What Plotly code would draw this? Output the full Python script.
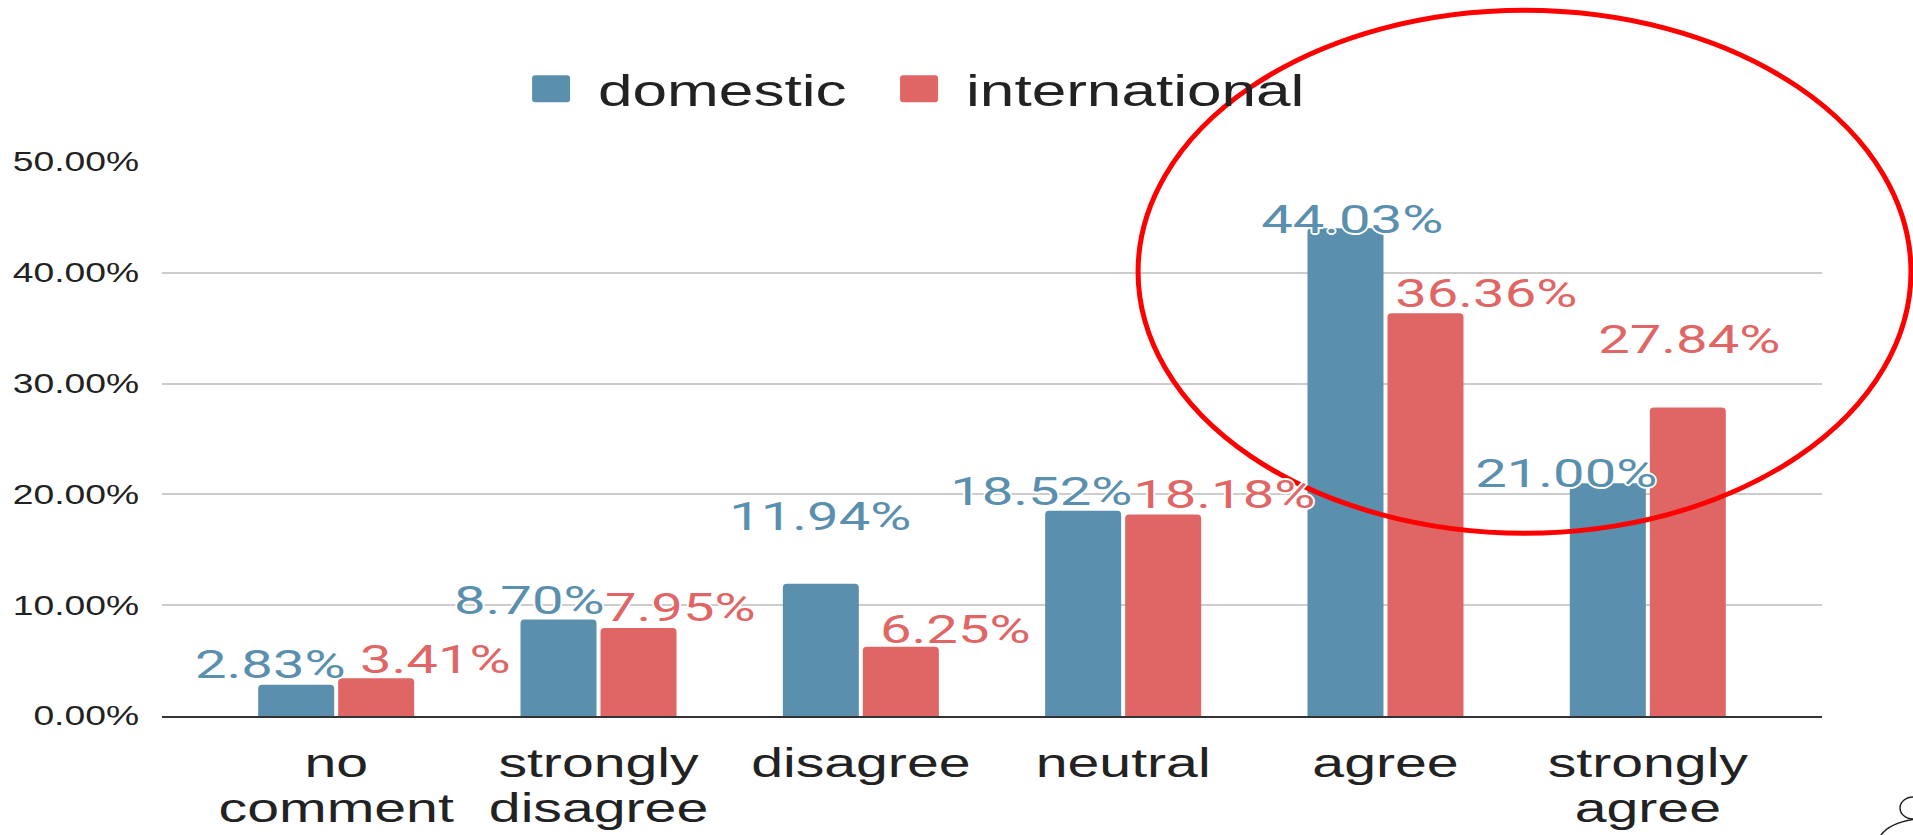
import plotly.graph_objects as go

# ---- data -------------------------------------------------------------
categories = ["no comment", "strongly disagree", "disagree", "neutral", "agree", "strongly agree"]
category_labels = ["no<br>comment", "strongly<br>disagree", "disagree", "neutral", "agree", "strongly<br>agree"]
series_names = ["domestic", "international"]
domestic = [2.83, 8.70, 11.94, 18.52, 44.03, 21.00]
international = [3.41, 7.95, 6.25, 18.18, 36.36, 27.84]
y_tick_values = [0, 10, 20, 30, 40, 50]
y_tick_labels = ["0.00%", "10.00%", "20.00%", "30.00%", "40.00%", "50.00%"]

# ---- style ------------------------------------------------------------
DOM_COLOR = "#5A8FAE"
INT_COLOR = "#E06666"
TEXT_COLOR = "#222222"
BAR_OFFSET = 42  # px from category centre to each bar centre
# value-label nudges in px: sideways from the bar centre, and label centre above the bar top
DOM_LABEL_DX = [-24, -27, 2, -40, 9, -39]
DOM_LABEL_DY = [20, 19, 67, 19, 8, 9]
INT_LABEL_DX = [57, 40, 53, 59, 59, 0]
INT_LABEL_DY = [18, 20, 17, 20, 19, 68]
HALO = ("white 1.5px 0px 0px, white -1.5px 0px 0px, white 0px 2px 0px, white 0px -2px 0px, "
        "white 1.2px 1.5px 0px, white -1.2px -1.5px 0px, white 1.2px -1.5px 0px, white -1.2px 1.5px 0px")

fig = go.Figure()
fig.add_trace(go.Bar(name=series_names[0], x=categories, y=domestic,
                     marker=dict(color=DOM_COLOR, line=dict(width=0)), hoverinfo="skip"))
fig.add_trace(go.Bar(name=series_names[1], x=categories, y=international,
                     marker=dict(color=INT_COLOR, line=dict(width=0)), hoverinfo="skip"))

annotations = []
for values, color, side, dxs, dys in [
    (domestic, DOM_COLOR, -1, DOM_LABEL_DX, DOM_LABEL_DY),
    (international, INT_COLOR, 1, INT_LABEL_DX, INT_LABEL_DY),
]:
    for cat, v, dx, dy in zip(categories, values, dxs, dys):
        annotations.append(dict(
            x=cat, y=v, xref="x", yref="y", text=f"{v:.2f}%", showarrow=False,
            xanchor="center", yanchor="middle", xshift=side * BAR_OFFSET + dx, yshift=dy,
            font=dict(family="Roboto", size=39, color=color, shadow=HALO),
        ))

# highlight ring around the agree / strongly agree groups
ring = dict(type="circle", xref="paper", yref="paper",
            x0=0.588, x1=1.0536, y0=0.330, y1=1.274,
            line=dict(color="#FF0000", width=5), layer="above")
# small outline figure peeking in at the bottom-right corner
corner_head = dict(type="circle", xref="paper", yref="paper",
                   x0=1.0470, x1=1.0627, y0=-0.1859, y1=-0.1462,
                   line=dict(color="#222222", width=1.5))
corner_body = dict(type="path", xref="paper", yref="paper",
                   path="M 1.0355,-0.2148 Q 1.0420,-0.1880 1.0627,-0.1841",
                   line=dict(color="#222222", width=1.5))

fig.update_layout(
    width=1913, height=835,
    margin=dict(l=162, r=91, t=162, b=119, autoexpand=False),
    paper_bgcolor="white", plot_bgcolor="white",
    barmode="group", bargap=0.39, bargroupgap=0.05, barcornerradius=4,
    xaxis=dict(range=[-0.664, 5.664], tickmode="array", tickvals=categories, ticktext=category_labels,
               showgrid=False, zeroline=False, showline=True, linecolor="#333333", linewidth=2,
               ticks="", ticklabelstandoff=11,
               tickfont=dict(family="Liberation Sans", size=40, color=TEXT_COLOR)),
    yaxis=dict(range=[0, 50], tickmode="array", tickvals=y_tick_values, ticktext=y_tick_labels,
               showgrid=True, gridcolor="#CCCCCC", gridwidth=2, zeroline=False, showline=False,
               ticks="", ticklabelstandoff=22,
               tickfont=dict(family="Liberation Sans", size=27, color=TEXT_COLOR)),
    legend=dict(orientation="h", xref="container", yref="container", x=0.2635, y=0.9364,
                xanchor="left", yanchor="top", itemwidth=84, entrywidth=269, entrywidthmode="pixels",
                font=dict(family="Liberation Sans", size=45, color=TEXT_COLOR),
                bgcolor="rgba(0,0,0,0)", borderwidth=0),
    shapes=[ring, corner_head, corner_body],
    annotations=annotations,
)

# Widen the lettering horizontally about each text's anchor, tighten the
# two-line category labels, and draw rounded legend swatches.
POST = r"""
var gd = document.getElementById('{plot_id}');
gd.querySelectorAll('.xtick text tspan.line').forEach(function(s){
  var dy = s.getAttribute('dy');
  if (dy && dy.indexOf('em') > 0) {
    var v = parseFloat(dy);
    if (v) s.setAttribute('dy', (v * 1.125 / 1.3) + 'em');
  }
});
function widen(sel, K){
  gd.querySelectorAll(sel).forEach(function(t){
    var bb = t.getBBox();
    if (!bb.width) return;
    var a = t.getAttribute('text-anchor') || getComputedStyle(t).textAnchor || 'start';
    var cx = a === 'end' ? bb.x + bb.width : (a === 'middle' ? bb.x + bb.width / 2 : bb.x);
    var tr = t.getAttribute('transform') || '';
    t.setAttribute('transform', tr + ' translate(' + cx + ',0) scale(' + K + ',1) translate(' + (-cx) + ',0)');
  });
}
widen('.annotation-text', 1.44);
widen('.xtick text', 1.43);
widen('.ytick text', 1.38);
widen('.legendtext', 1.38);
gd.querySelectorAll('.legend .scrollbox, .legend [clip-path]').forEach(function(e){ e.removeAttribute('clip-path'); });
gd.querySelectorAll('.legendpoints path').forEach(function(p){
  p.setAttribute('d', 'M-16,-13.5H16A3,3 0 0 1 19,-10.5V10.5A3,3 0 0 1 16,13.5H-16A3,3 0 0 1 -19,10.5V-10.5A3,3 0 0 1 -16,-13.5Z');
});
"""

fig.write_html("out.html", config={"displayModeBar": False, "responsive": False}, post_script=POST)
